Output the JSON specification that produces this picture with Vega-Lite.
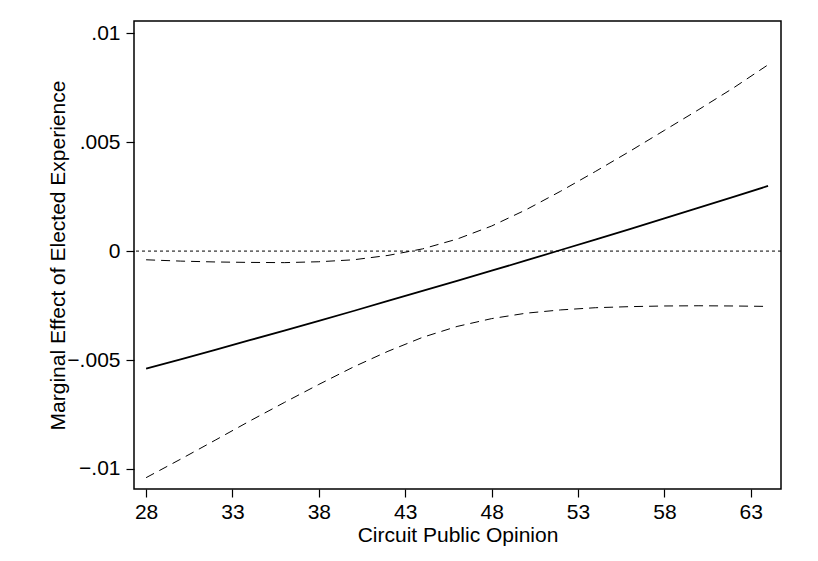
{
  "$schema": "https://vega.github.io/schema/vega-lite/v6.json",
  "width": 647,
  "height": 468,
  "autosize": "none",
  "padding": {"left": 134, "top": 21, "right": 37, "bottom": 72},
  "background": "white",
  "config": {
    "view": {"stroke": "black", "strokeWidth": 1.5},
    "font": "Liberation Sans",
    "axis": {
      "domain": false,
      "grid": false,
      "tickColor": "black",
      "tickSize": 8,
      "tickWidth": 1.2,
      "labelColor": "black",
      "labelFontSize": 21,
      "labelFlush": false,
      "labelOverlap": false,
      "titleColor": "black",
      "titleFontSize": 21,
      "titleFontWeight": "normal"
    }
  },
  "data": {
    "values": [
      {"x": 28, "series": "est", "value": -0.0054},
      {"x": 30, "series": "est", "value": -0.00497},
      {"x": 32, "series": "est", "value": -0.00453},
      {"x": 34, "series": "est", "value": -0.00409},
      {"x": 36, "series": "est", "value": -0.00365},
      {"x": 38, "series": "est", "value": -0.0032},
      {"x": 40, "series": "est", "value": -0.00275},
      {"x": 42, "series": "est", "value": -0.00229},
      {"x": 44, "series": "est", "value": -0.00183},
      {"x": 46, "series": "est", "value": -0.00137},
      {"x": 48, "series": "est", "value": -0.0009},
      {"x": 50, "series": "est", "value": -0.00043},
      {"x": 52, "series": "est", "value": 0.00005},
      {"x": 54, "series": "est", "value": 0.00053},
      {"x": 56, "series": "est", "value": 0.00101},
      {"x": 58, "series": "est", "value": 0.0015},
      {"x": 60, "series": "est", "value": 0.00199},
      {"x": 62, "series": "est", "value": 0.00249},
      {"x": 64, "series": "est", "value": 0.00299},
      {"x": 28, "series": "upper", "value": -0.0004},
      {"x": 30, "series": "upper", "value": -0.00046},
      {"x": 32, "series": "upper", "value": -0.0005},
      {"x": 34, "series": "upper", "value": -0.00052},
      {"x": 36, "series": "upper", "value": -0.00053},
      {"x": 38, "series": "upper", "value": -0.00049},
      {"x": 40, "series": "upper", "value": -0.0004},
      {"x": 42, "series": "upper", "value": -0.0002},
      {"x": 44, "series": "upper", "value": 0.0001},
      {"x": 46, "series": "upper", "value": 0.00055},
      {"x": 48, "series": "upper", "value": 0.00115},
      {"x": 50, "series": "upper", "value": 0.0019},
      {"x": 52, "series": "upper", "value": 0.00275},
      {"x": 54, "series": "upper", "value": 0.00365},
      {"x": 56, "series": "upper", "value": 0.00458},
      {"x": 58, "series": "upper", "value": 0.00554},
      {"x": 60, "series": "upper", "value": 0.0065},
      {"x": 62, "series": "upper", "value": 0.00749},
      {"x": 64, "series": "upper", "value": 0.00855},
      {"x": 28, "series": "lower", "value": -0.0104},
      {"x": 30, "series": "lower", "value": -0.00955},
      {"x": 32, "series": "lower", "value": -0.00868},
      {"x": 34, "series": "lower", "value": -0.0078},
      {"x": 36, "series": "lower", "value": -0.00695},
      {"x": 38, "series": "lower", "value": -0.00612},
      {"x": 40, "series": "lower", "value": -0.00532},
      {"x": 42, "series": "lower", "value": -0.0046},
      {"x": 44, "series": "lower", "value": -0.00396},
      {"x": 46, "series": "lower", "value": -0.00346},
      {"x": 48, "series": "lower", "value": -0.0031},
      {"x": 50, "series": "lower", "value": -0.00285},
      {"x": 52, "series": "lower", "value": -0.0027},
      {"x": 54, "series": "lower", "value": -0.0026},
      {"x": 56, "series": "lower", "value": -0.00255},
      {"x": 58, "series": "lower", "value": -0.00252},
      {"x": 60, "series": "lower", "value": -0.00251},
      {"x": 62, "series": "lower", "value": -0.00252},
      {"x": 64, "series": "lower", "value": -0.00254}
    ]
  },
  "layer": [
    {
      "data": {"values": [{"zero": 0}]},
      "mark": {"type": "rule", "color": "black", "strokeWidth": 1, "strokeDash": [3, 3]},
      "encoding": {
        "y": {"field": "zero", "type": "quantitative"}
      }
    },
    {
      "transform": [{"filter": "datum.series !== 'est'"}],
      "mark": {"type": "line", "color": "black", "strokeWidth": 1, "strokeDash": [9, 6]},
      "encoding": {
        "x": {"field": "x", "type": "quantitative"},
        "y": {"field": "value", "type": "quantitative"},
        "detail": {"field": "series"}
      }
    },
    {
      "transform": [{"filter": "datum.series === 'est'"}],
      "mark": {"type": "line", "color": "black", "strokeWidth": 1.8},
      "encoding": {
        "x": {
          "field": "x",
          "type": "quantitative",
          "scale": {"domain": [27.3, 64.75], "nice": false, "zero": false},
          "axis": {
            "values": [28, 33, 38, 43, 48, 53, 58, 63],
            "title": "Circuit Public Opinion",
            "labelPadding": 4,
            "titlePadding": 2
          }
        },
        "y": {
          "field": "value",
          "type": "quantitative",
          "scale": {"domain": [-0.01092, 0.01056], "nice": false, "zero": false},
          "axis": {
            "values": [-0.01, -0.005, 0, 0.005, 0.01],
            "labelExpr": "datum.value == 0 ? '0' : replace(format(datum.value, '.3~f'), '0.', '.')",
            "title": "Marginal Effect of Elected Experience",
            "labelPadding": 6,
            "titlePadding": -2
          }
        }
      }
    }
  ]
}
